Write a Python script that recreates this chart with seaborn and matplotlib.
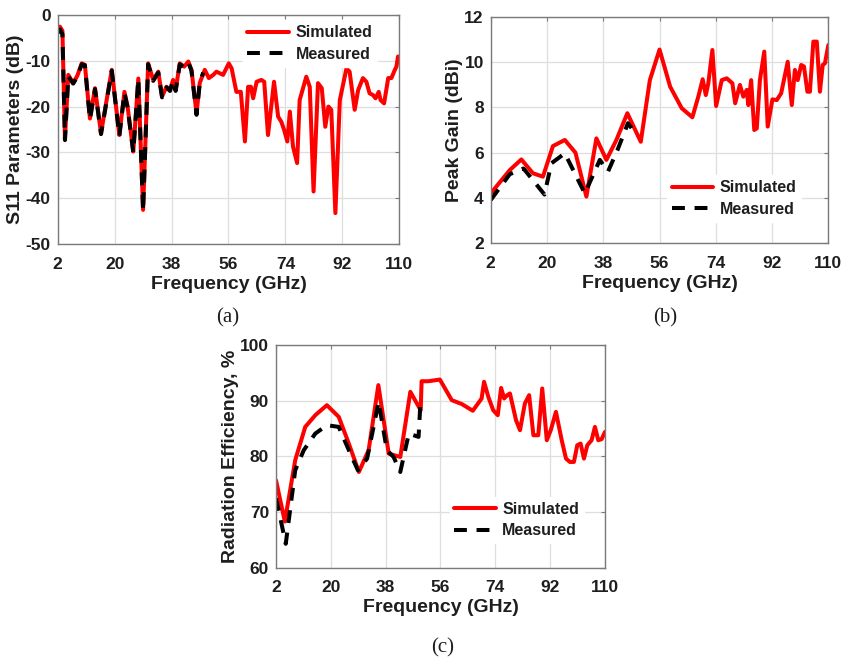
import numpy as np
import pandas as pd
import seaborn as sns
import matplotlib.pyplot as plt

# (a) S11 parameters (dB)
s11_sim_freq = [2, 2.7, 3.5, 4.3, 5.35, 6.9, 8.2, 9.6, 10.6, 12.2, 13.8, 15.7, 19.1, 21.5, 23.1,
                24.1, 25.9, 27.5, 29.0, 30.6, 32.2, 33.8, 35.0, 36.4, 37.5, 38.5, 39.3, 40.6, 42.0,
                43.3, 44.3, 45.9, 46.9, 48.5, 49.8, 51.2, 52.2, 54.3, 56.1, 57.0, 58.5, 59.9, 61.2,
                62.2, 63.1, 63.8, 64.9, 66.4, 67.3, 68.5, 70.4, 71.7, 72.7, 73.6, 74.6, 75.4, 76.4,
                77.7, 78.5, 80.6, 81.7, 82.9, 84.3, 85.5, 86.6, 87.6, 88.5, 89.8, 91.2, 93.3, 94.3,
                95.9, 97.0, 98.5, 99.6, 100.6, 101.7, 102.5, 103.5, 104.1, 105.2, 106.5, 107.5,
                108.6, 109.1, 109.6, 110]
s11_sim = [-3.5, -2.6, -3.5, -27.0, -13.1, -14.9, -13.3, -10.6, -10.9, -22.6, -16.0, -25.8, -12.0,
           -26.2, -16.8, -20.0, -29.8, -13.9, -42.5, -10.6, -14.2, -12.4, -17.8, -15.7, -16.4,
           -14.2, -16.4, -10.6, -11.3, -10.2, -12.0, -21.5, -14.9, -12.0, -13.8, -13.1, -12.4,
           -13.1, -10.6, -11.7, -16.8, -16.8, -27.6, -15.7, -15.7, -18.2, -14.6, -14.2, -14.6,
           -26.2, -14.6, -22.2, -23.3, -25.1, -27.6, -21.1, -28.7, -32.3, -18.6, -13.5, -15.7,
           -38.5, -14.9, -16.0, -24.4, -20.0, -20.7, -43.2, -18.6, -11.7, -12.4, -20.7, -16.4,
           -13.8, -14.6, -17.1, -17.5, -18.2, -16.8, -18.6, -19.3, -13.8, -13.8, -12.0, -11.3,
           -9.1, -9.5]
s11_meas_freq = [2, 2.7, 3.5, 4.3, 5.35, 6.9, 8.2, 9.6, 10.6, 12.2, 13.8, 15.7, 19.1, 21.5, 23.1,
                 24.1, 25.9, 27.5, 29.0, 30.6, 32.2, 33.8, 35.0, 36.4, 37.5, 38.5, 39.3, 40.6, 42.0,
                 43.3, 44.3, 45.9, 46.9, 48.0]
s11_meas = [-4.0, -3.2, -4.2, -27.3, -13.4, -15.0, -13.5, -10.8, -11.0, -22.8, -16.2, -26.0, -12.2,
            -26.4, -17.0, -20.2, -30.0, -14.0, -42.8, -10.8, -14.4, -12.6, -18.0, -15.8, -16.6,
            -14.4, -16.6, -10.8, -11.5, -10.4, -12.2, -21.8, -15.0, -12.6]

# (b) Peak gain (dBi)
gain_sim_freq = [2, 8.1, 11.8, 15.5, 18.7, 21.9, 25.7, 29.1, 32.6, 35.8, 39.0, 42.2, 45.7, 50.0,
                 52.9, 56.0, 59.4, 63.1, 66.5, 68.4, 69.8, 70.8, 71.6, 72.9, 74.1, 75.9, 77.5,
                 79.3, 80.2, 81.7, 82.8, 83.9, 84.4, 85.3, 86.3, 87.1, 88.1, 89.5, 90.6, 92.1,
                 93.5, 94.9, 97.0, 98.3, 99.3, 100.2, 101.3, 102.2, 103.3, 104.1, 105.2, 106.3,
                 107.3, 108.2, 108.9, 110]
gain_sim = [4.2, 5.23, 5.7, 5.09, 4.94, 6.29, 6.56, 6.0, 4.06, 6.63, 5.68, 6.56, 7.74, 6.48, 9.2,
            10.55, 8.91, 7.96, 7.56, 8.47, 9.24, 8.54, 9.06, 10.53, 8.06, 9.2, 9.28, 9.06, 8.18,
            8.99, 8.47, 8.77, 8.1, 9.2, 7.0, 7.07, 9.2, 10.46, 7.15, 8.35, 8.32, 8.62, 10.01, 8.1,
            9.65, 9.2, 9.87, 9.8, 8.69, 8.69, 10.9, 10.9, 8.69, 9.87, 9.94, 10.75]
gain_meas_freq = [2, 8.1, 12.5, 19.2, 21.4, 25.7, 32.1, 36.9, 39.5, 42.5, 45.9, 48.6]
gain_meas = [3.91, 5.05, 5.3, 4.15, 5.53, 5.97, 4.2, 5.68, 5.16, 6.1, 7.3, 6.78]

# (c) Radiation efficiency (%)
eff_sim_freq = [2, 4.9, 8.3, 11.6, 14.9, 18.7, 22.6, 25.9, 29.2, 32.4, 35.6, 39.0, 42.8, 46.1,
                49.5, 49.8, 52, 55.8, 59.7, 63.0, 66.6, 69.5, 70.3, 71.7, 73.3, 74.8, 75.9, 76.9,
                77.9, 78.8, 80.8, 82.1, 83.7, 85.1, 86.5, 88.1, 89.4, 90.9, 92.2, 93.9, 95.8, 97.2,
                98.5, 99.8, 100.9, 102.0, 103.1, 104.2, 105.6, 106.7, 107.8, 108.9, 110]
eff_sim = [75.7, 68.3, 79.3, 85.3, 87.4, 89.2, 87.1, 82.3, 77.2, 81.1, 92.8, 80.5, 79.9, 91.6,
           88.3, 93.5, 93.5, 93.8, 90.1, 89.4, 88.2, 90.4, 93.4, 90.7, 88.3, 87.4, 92.3, 90.4,
           91.0, 91.3, 86.5, 84.7, 89.5, 91.0, 83.8, 83.8, 92.2, 82.9, 84.7, 88.0, 82.9, 79.6,
           79.0, 79.0, 82.0, 82.3, 79.6, 82.0, 82.9, 85.3, 82.9, 83.1, 84.4]
eff_meas_freq = [2, 2.8, 5.2, 8.3, 11.1, 14.9, 18.7, 22.6, 26.4, 28.9, 31.9, 35.7, 38.4, 40.6,
                 42.8, 45.6, 48.8, 49.5]
eff_meas = [72.5, 70.5, 64.3, 77.5, 81.1, 84.1, 85.6, 85.3, 80.5, 77.5, 79.6, 89.8, 81.1, 79.9,
            77.2, 84.1, 83.5, 90.5]

freq_ticks = [2, 20, 38, 56, 74, 92, 110]

sns.set_style("white")
plt.rcParams['font.family'] = ['Liberation Sans', 'DejaVu Sans']
plt.rcParams['font.weight'] = 'bold'
plt.rcParams['axes.labelweight'] = 'bold'
plt.rcParams['axes.unicode_minus'] = False

fig = plt.figure(figsize=(8.42, 6.60), dpi=100)


def panel(rect, sf, sv, mf, mv, ylim, yticks, ylabel, loc, anchor):
    ax = fig.add_axes(rect)
    sim = pd.DataFrame({'freq': sf, 'val': sv})
    meas = pd.DataFrame({'freq': mf, 'val': mv})
    sns.lineplot(data=sim, x='freq', y='val', ax=ax, color='#ff0000', lw=2.9,
                 label='Simulated', sort=False, estimator=None)
    sns.lineplot(data=meas, x='freq', y='val', ax=ax, color='black', lw=2.9,
                 ls=(0, (3.2, 2.4)), label='Measured', sort=False, estimator=None)
    ax.set_xlim(2, 110)
    ax.set_ylim(*ylim)
    ax.set_xticks(freq_ticks)
    ax.set_yticks(yticks)
    ax.set_axisbelow(True)
    ax.grid(True, color='#dedede', lw=0.9)
    for s in ax.spines.values():
        s.set_color('#7a7a7a')
        s.set_linewidth(1.0)
    ax.tick_params(direction='in', length=3, color='#7a7a7a', top=True, right=True,
                   labelsize=12.5, labelcolor='#1e1e1e')
    ax.tick_params(axis='x', pad=9)
    ax.tick_params(axis='y', pad=5)
    ax.set_xlabel('Frequency (GHz)', fontsize=14, color='#1e1e1e', labelpad=3)
    ax.set_ylabel(ylabel, fontsize=14, color='#1e1e1e', labelpad=1)
    leg = ax.legend(loc=loc, bbox_to_anchor=anchor, fontsize=11.5, frameon=True,
                    framealpha=1, facecolor='white', edgecolor='white', fancybox=False,
                    handlelength=2.6, handletextpad=0.4, labelspacing=0.42,
                    borderpad=0.3, borderaxespad=0)
    for t in leg.get_texts():
        t.set_color('#1e1e1e')
    return ax


panel([0.0685, 0.6298, 0.4057, 0.3479], s11_sim_freq, s11_sim, s11_meas_freq, s11_meas,
      (-50, 0), [-50, -40, -30, -20, -10, 0], 'S11 Parameters (dB)',
      'upper right', (0.935, 0.975))
panel([0.5828, 0.6314, 0.4010, 0.3433], gain_sim_freq, gain_sim, gain_meas_freq, gain_meas,
      (2, 12), [2, 4, 6, 8, 10, 12], 'Peak Gain (dBi)',
      'lower right', (0.92, 0.095))
panel([0.3278, 0.1398, 0.3907, 0.3374], eff_sim_freq, eff_sim, eff_meas_freq, eff_meas,
      (60, 100), [60, 70, 80, 90, 100], 'Radiation Efficiency, %',
      'lower right', (0.936, 0.11))

for txt, x, y in [('(a)', 228, 318), ('(b)', 665, 318), ('(c)', 443, 648)]:
    fig.text(x / 842, 1 - y / 660, txt, ha='center', va='center', fontsize=15,
             fontweight='normal', family=['Liberation Serif', 'DejaVu Serif'], color='#1e1e1e')

fig.savefig('out.png', dpi=100)
